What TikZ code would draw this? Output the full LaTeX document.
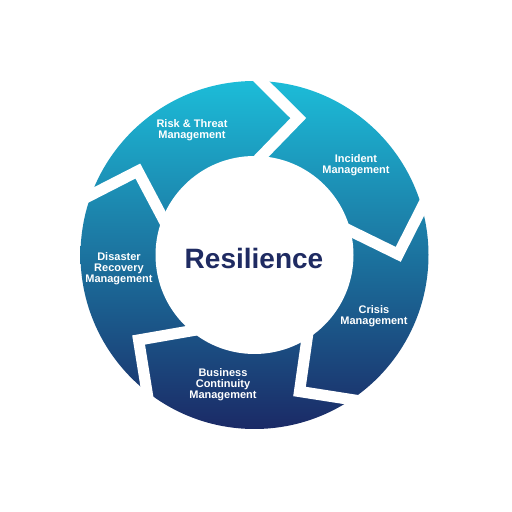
\documentclass[tikz,border=0pt]{standalone}
\usepackage{fontspec}
\setmainfont{Liberation Sans}
\definecolor{ringtop}{HTML}{1CBCD8}
\definecolor{ringmid}{HTML}{1A80A8}
\definecolor{ringbot}{HTML}{1B2A66}
\definecolor{titlecol}{HTML}{1F2B62}
\begin{document}
\begin{tikzpicture}[x=1pt,y=1pt,
  gapline/.style={draw=white,line width=11.2pt,line join=miter,miter limit=10},
  seglabel/.style={text=white,font=\fontsize{11}{11}\selectfont\bfseries,align=center,inner sep=0pt},
  title/.style={text=titlecol,font=\fontsize{28}{30}\selectfont\bfseries,inner sep=0pt}]
\useasboundingbox (0,0) rectangle (512,512);
\fill[white] (0,0) rectangle (512,512);
\coordinate (C) at (254.5,257);
% ring
\shade[top color=ringtop, middle color=ringmid, bottom color=ringbot] (C) circle[radius=174];
% gaps between segments (chevrons)
\foreach \a in {90.5,18.5,-53.5,-125.5,-197.5}{
  \begin{scope}[shift={(C)},rotate=\a]
    \draw[gapline] (192.75,10.5) -- (136.5,-45) -- (80.25,10.5);
  \end{scope}
}
% inner circle
\fill[white] (C) circle[radius=99];
% labels
\node[title,anchor=base] (res) at (254,243) {Resilience};
\node[seglabel] (risk) at (192,382) {Risk \& Threat\\Management};
\node[seglabel] (inc) at (356,347) {Incident\\Management};
\node[seglabel] (cri) at (374,196) {Crisis\\Management};
\node[seglabel] (bus) at (223,127.5) {Business\\Continuity\\Management};
\node[seglabel] (dis) at (119,243) {Disaster\\Recovery\\Management};
\end{tikzpicture}
\end{document}
